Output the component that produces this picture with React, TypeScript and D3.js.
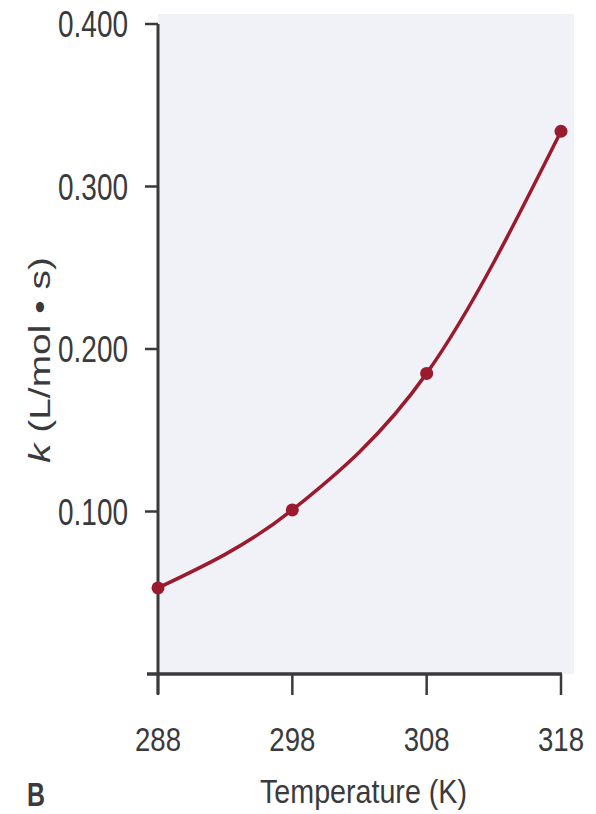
import React, { useEffect, useRef } from "react";
import * as d3 from "d3";

// values
const temperatures = [288, 298, 308, 318];
const rateConstants = [0.053, 0.101, 0.185, 0.334];
const xTicks = [288, 298, 308, 318];
const yTicks = [0.1, 0.2, 0.3, 0.4];

const W = 596;
const H = 814;

export default function App() {
  const ref = useRef<SVGSVGElement>(null);

  useEffect(() => {
    const svg = d3.select(ref.current);
    svg.selectAll("*").remove();

    const font = "'Liberation Sans', Arial, sans-serif";
    const ink = "#3a3a3d";
    const red = "#9a1a2e";

    const x = d3.scaleLinear().domain([288, 318]).range([158, 561]);
    const y = d3.scaleLinear().domain([0, 0.4]).range([674, 24]);

    // paper-ish panel behind the plot
    svg
      .append("rect")
      .attr("x", 158)
      .attr("y", 14)
      .attr("width", 416)
      .attr("height", 660)
      .attr("fill", "#f0f2f7");

    // y axis
    const yAxis = svg.append("g").attr("transform", `translate(${x(288)},0)`);
    yAxis
      .append("line")
      .attr("y1", y(0.4))
      .attr("y2", 694)
      .attr("stroke", ink)
      .attr("stroke-width", 3);
    yAxis
      .selectAll(".ytick")
      .data(yTicks)
      .join("line")
      .attr("class", "ytick")
      .attr("x1", -13)
      .attr("x2", 0)
      .attr("y1", (d) => y(d))
      .attr("y2", (d) => y(d))
      .attr("stroke", ink)
      .attr("stroke-width", 2.5);
    // condensed face: squeeze the glyphs with textLength
    yAxis
      .selectAll(".ylab")
      .data(yTicks)
      .join("text")
      .attr("class", "ylab")
      .attr("x", -100)
      .attr("y", (d) => y(d) + 13)
      .attr("textLength", 70)
      .attr("lengthAdjust", "spacingAndGlyphs")
      .style("font-family", font)
      .style("font-size", "36px")
      .attr("fill", ink)
      .text((d) => d3.format(".3f")(d));

    // x axis
    const xAxis = svg.append("g").attr("transform", `translate(0,${y(0)})`);
    xAxis
      .append("line")
      .attr("x1", 147)
      .attr("x2", x(318) + 1)
      .attr("stroke", ink)
      .attr("stroke-width", 3.5);
    xAxis
      .selectAll(".xtick")
      .data(xTicks)
      .join("line")
      .attr("class", "xtick")
      .attr("x1", (d) => x(d))
      .attr("x2", (d) => x(d))
      .attr("y1", 0)
      .attr("y2", 21)
      .attr("stroke", ink)
      .attr("stroke-width", 2.5);
    xAxis
      .selectAll(".xlab")
      .data(xTicks)
      .join("text")
      .attr("class", "xlab")
      .attr("x", (d) => x(d) - 23)
      .attr("y", 77)
      .attr("textLength", 46)
      .attr("lengthAdjust", "spacingAndGlyphs")
      .style("font-family", font)
      .style("font-size", "34px")
      .attr("fill", ink)
      .text((d) => String(d));

    // axis titles
    svg
      .append("text")
      .attr("x", 260)
      .attr("y", 803)
      .attr("textLength", 207)
      .attr("lengthAdjust", "spacingAndGlyphs")
      .style("font-family", font)
      .style("font-size", "34px")
      .attr("fill", ink)
      .text("Temperature (K)");

    const yTitle = svg
      .append("text")
      .attr("transform", "translate(50,463) rotate(-90)")
      .attr("textLength", 206)
      .attr("lengthAdjust", "spacingAndGlyphs")
      .style("font-family", font)
      .style("font-size", "29px")
      .attr("fill", ink);
    yTitle.append("tspan").style("font-style", "italic").text("k");
    yTitle.append("tspan").text(" (L/mol \u2022 s)");

    svg
      .append("text")
      .attr("x", 27)
      .attr("y", 806)
      .attr("textLength", 18)
      .attr("lengthAdjust", "spacingAndGlyphs")
      .style("font-family", font)
      .style("font-size", "34px")
      .style("font-weight", "bold")
      .attr("fill", ink)
      .text("B");

    // curve and points
    const pts = temperatures.map((t, i) => [t, rateConstants[i]] as [number, number]);
    const line = d3
      .line<[number, number]>()
      .x((d) => x(d[0]))
      .y((d) => y(d[1]))
      .curve(d3.curveMonotoneX);
    svg
      .append("path")
      .attr("d", line(pts))
      .attr("fill", "none")
      .attr("stroke", red)
      .attr("stroke-width", 3.5);
    svg
      .selectAll(".pt")
      .data(pts)
      .join("circle")
      .attr("class", "pt")
      .attr("cx", (d) => x(d[0]))
      .attr("cy", (d) => y(d[1]))
      .attr("r", 6.5)
      .attr("fill", red);
  }, []);

  return (
    <svg
      ref={ref}
      width={W}
      height={H}
      style={{ position: "absolute", left: 0, top: 0, background: "#fff" }}
    />
  );
}
